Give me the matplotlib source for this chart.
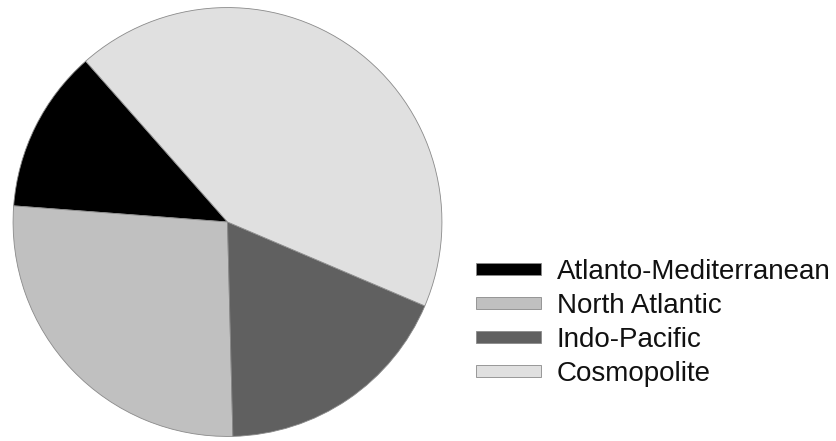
import matplotlib
matplotlib.use("Agg")
import matplotlib.pyplot as plt

categories = ["Atlanto-Mediterranean", "North Atlantic", "Indo-Pacific", "Cosmopolite"]
values = [12.3, 26.6, 18.2, 42.9]
colors = ["#000000", "#c0c0c0", "#606060", "#e0e0e0"]

plt.rcParams['font.family'] = ['Liberation Sans', 'DejaVu Sans']

fig = plt.figure(figsize=(8.36, 4.41), dpi=100)
ax = fig.add_axes([12.0 / 836, 3.5 / 441, 431.0 / 836, 431.0 / 441])
wedges, _ = ax.pie(values, colors=colors, startangle=131.4, counterclock=True,
                   radius=1.0,
                   wedgeprops=dict(edgecolor="#8a8a8a", linewidth=0.6))
ax.set_xlim(-1.005, 1.005)
ax.set_ylim(-1.005, 1.005)
ax.set_aspect("equal")
ax.axis("off")

leg = fig.legend(wedges, categories, loc="center left",
                 bbox_to_anchor=(476.0 / 836, 1 - 323.0 / 441),
                 frameon=False, fontsize=20, handlelength=2.34, handleheight=0.29,
                 handletextpad=0.56, labelspacing=0.28, borderpad=0, borderaxespad=0)
for t in leg.get_texts():
    t.set_color("#111111")

fig.savefig("out.png", dpi=100)
